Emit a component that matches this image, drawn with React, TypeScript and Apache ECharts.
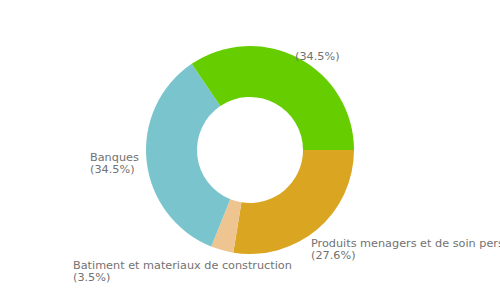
import React, { useEffect, useRef } from "react";
import * as echarts from "echarts";

const categories = [
  "Produits menagers et de soin personnel",
  "Batiment et materiaux de construction",
  "Banques",
  "",
];
const values = [27.6, 3.5, 34.5, 34.5];
const colors = ["#DAA520", "#EEC591", "#7AC5CD", "#66CD00"];

// label anchor positions (left/top of each label block)
const labelPos: [number, number][] = [
  [311, 237],
  [73, 259],
  [90, 151],
  [295, 50],
];

export default function App() {
  const ref = useRef<HTMLDivElement>(null);
  useEffect(() => {
    document.body.style.margin = "0";
    const chart = echarts.init(ref.current!, null, { renderer: "svg" });
    chart.setOption({
      animation: false,
      backgroundColor: "#ffffff",
      series: [
        {
          type: "pie",
          center: ["50%", "50%"],
          radius: [53, 104],
          startAngle: 0,
          clockwise: true,
          avoidLabelOverlap: false,
          silent: true,
          data: categories.map((name, i) => ({
            name,
            value: values[i],
            itemStyle: { color: colors[i] },
          })),
          label: {
            show: true,
            position: "outside",
            width: 400,
            overflow: "none",
            color: "#727272",
            fontFamily: "DejaVu Sans",
            fontSize: 11.25,
            lineHeight: 12,
            formatter: (p: any) =>
              p.name ? `${p.name}\n(${p.value}%)` : `(${p.value}%)`,
          },
          labelLine: { show: false, length: 0, length2: 0 },
          labelLayout: (p: any) => ({
            x: labelPos[p.dataIndex][0],
            y: labelPos[p.dataIndex][1],
            align: "left",
            verticalAlign: "top",
          }),
        },
      ],
    });
    return () => chart.dispose();
  }, []);
  return <div ref={ref} style={{ width: 500, height: 300 }} />;
}
